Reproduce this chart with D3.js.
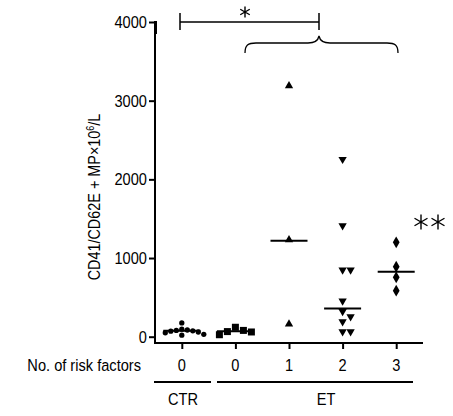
<!DOCTYPE html>
<html><head><meta charset="utf-8">
<script src="https://cdn.jsdelivr.net/npm/d3@7/dist/d3.min.js"></script>
<style>
body{margin:0;background:#fff;}
text{font-family:"Liberation Sans",Arial,sans-serif;fill:#000;}
</style></head>
<body>
<svg id="c" width="453" height="416"></svg>
<script>
// ---- data ----
const groups = ["CTR-0", "ET-0", "ET-1", "ET-2", "ET-3"];
const tickLabels = ["0", "0", "1", "2", "3"];
const ctrValues = [175, 95, 85, 80, 75, 70, 60, 50, 30, 20];
const et0Values = [120, 80, 65, 60, 25];
const et1Values = [3190, 1230, 160];
const et2Values = [2255, 1410, 850, 850, 455, 320, 255, 190, 65, 65];
const et3Values = [1200, 890, 755, 585];
const medians = [75, 70, 1220, 360, 825];
const yTicks = [0, 1000, 2000, 3000, 4000];
const symbolsByGroup = ["circle", "square", "triangleUp", "triangleDown", "diamond"];

const series = [ctrValues, et0Values, et1Values, et2Values, et3Values];

const SX = 0.86; // condensed look
const svg = d3.select("#c");
const x = d3.scalePoint().domain(groups).range([155, 423]).padding(0.5);
const y = d3.scaleLinear().domain([0, 4000]).range([336.7, 22]);

function ctext(px, py, str, anchor, size) {
  return svg.append("text")
    .attr("transform", `translate(${px},${py}) scale(${SX},1)`)
    .attr("text-anchor", anchor).style("font-size", size + "px").text(str);
}

// y axis
const yAxis = d3.axisLeft(y).tickValues(yTicks).tickSize(6).tickFormat("");
const gy = svg.append("g").attr("transform", "translate(155,0)").call(yAxis);
gy.select(".domain").remove();
gy.selectAll(".tick line").attr("stroke", "#000").attr("stroke-width", 2);
yTicks.forEach(t => ctext(147, y(t) + 6, d3.format("d")(t), "end", 17));
svg.append("line").attr("x1", 155).attr("x2", 155).attr("y1", 21).attr("y2", 344)
  .attr("stroke", "#000").attr("stroke-width", 2);
svg.append("line").attr("x1", 156).attr("x2", 156).attr("y1", 21).attr("y2", 34)
  .attr("stroke", "#000").attr("stroke-width", 2);

// x axis
const xAxis = d3.axisBottom(x).tickSize(6).tickFormat("");
const gx = svg.append("g").attr("transform", "translate(0,343)").call(xAxis);
gx.select(".domain").remove();
gx.selectAll(".tick line").attr("stroke", "#000").attr("stroke-width", 2);
groups.forEach((g, i) => ctext(x(g), 371, tickLabels[i], "middle", 17));
svg.append("line").attr("x1", 154).attr("x2", 423).attr("y1", 343).attr("y2", 343)
  .attr("stroke", "#000").attr("stroke-width", 2);

ctext(141, 371, "No. of risk factors", "end", 17);

// group underlines
svg.append("line").attr("x1", 154).attr("x2", 211).attr("y1", 382).attr("y2", 382)
  .attr("stroke", "#000").attr("stroke-width", 2);
svg.append("line").attr("x1", 217).attr("x2", 413).attr("y1", 382).attr("y2", 382)
  .attr("stroke", "#000").attr("stroke-width", 2);
ctext(183, 405, "CTR", "middle", 17);
ctext(326, 405, "ET", "middle", 17);

// y label
svg.append("text").attr("transform", "translate(100,197) rotate(-90) scale(0.9,1)").attr("text-anchor", "middle")
  .style("font-size", "16px")
  .html('CD41/CD62E + MP×10<tspan dy="-6" style="font-size:10px">6</tspan><tspan dy="6">/L</tspan>');

// symbols
function symPath(kind) {
  if (kind === "circle") return d3.symbol(d3.symbolCircle, 22)();
  if (kind === "square") return d3.symbol(d3.symbolSquare, 49)();
  if (kind === "diamond") return d3.symbol(d3.symbolDiamond, 40)();
  return d3.symbol(d3.symbolTriangle, 30)();
}

series.forEach((vals, gi) => {
  const cx = x(groups[gi]);
  const kind = symbolsByGroup[gi];
  const minDist = kind === "circle" ? 5.5 : 8;
  const step = kind === "circle" ? 5.5 : 8;
  const placed = [];
  vals.forEach(v => {
    const py = y(v);
    let off = 0;
    for (let k = 0; k < 20; k++) {
      const cand = k === 0 ? 0 : (k % 2 ? 1 : -1) * Math.ceil(k / 2) * step;
      const ok = placed.every(p => Math.hypot(p.x - (cx + cand), p.y - py) >= minDist);
      if (ok) { off = cand; break; }
    }
    placed.push({x: cx + off, y: py});
  });
  svg.append("g").selectAll("path").data(placed).join("path")
    .attr("d", symPath(kind))
    .attr("transform", d => `translate(${d.x},${d.y})` + (kind === "triangleDown" ? " rotate(180)" : ""))
    .attr("fill", "#000");
  svg.append("line").attr("x1", cx - 18.5).attr("x2", cx + 18.5)
    .attr("y1", y(medians[gi])).attr("y2", y(medians[gi]))
    .attr("stroke", "#000").attr("stroke-width", 2);
});

// asterisk glyphs
function star(cx, cy, r) {
  let d = "";
  for (let a = 0; a < 3; a++) {
    const ang = Math.PI / 2 + a * Math.PI / 3;
    const dx = r * Math.cos(ang), dy = r * Math.sin(ang);
    d += `M${cx - dx},${cy - dy}L${cx + dx},${cy + dy}`;
  }
  svg.append("path").attr("d", d).attr("stroke", "#000").attr("stroke-width", 1.4).attr("fill", "none");
}

// significance bracket
svg.append("path").attr("d", "M180,13V30M180,22H319M319,13V30")
  .attr("stroke", "#000").attr("stroke-width", 1.5).attr("fill", "none");
star(245, 12, 5.5);
svg.append("path")
  .attr("d", "M245,53 C245,45 248,43 256,43 L308,43 C315,43 318,41 319,36 C320,41 323,43 330,43 L387,43 C395,43 398,45 398,53")
  .attr("stroke", "#000").attr("stroke-width", 1.3).attr("fill", "none");
star(421, 222, 7.5);
star(438, 222, 7.5);
</script>
</body></html>
